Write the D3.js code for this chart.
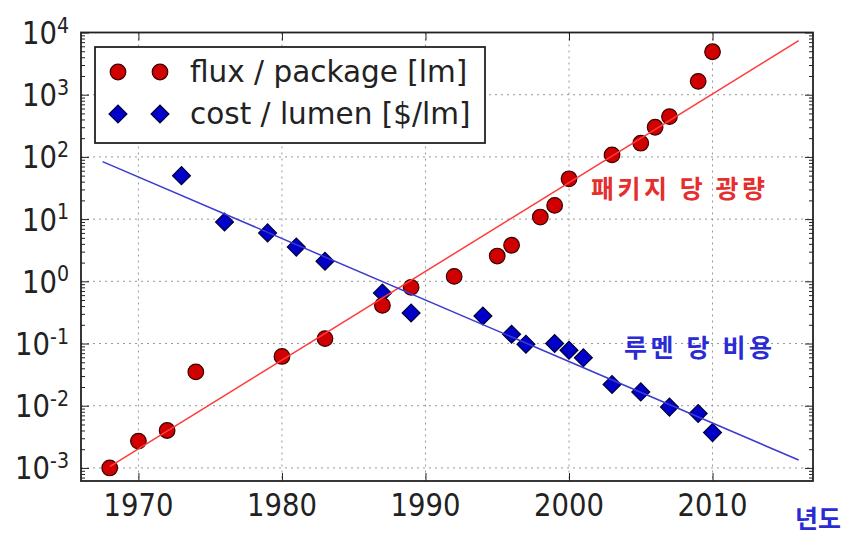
<!DOCTYPE html>
<html>
<head>
<meta charset="utf-8">
<script src="https://cdn.jsdelivr.net/npm/d3@7"></script>
<style>
  html, body { margin: 0; padding: 0; background: #fff; }
  svg { display: block; }
  .tick-label { font-family: "DejaVu Sans", sans-serif; fill: #222; }
  .ko { font-family: "Noto Sans CJK KR", sans-serif; font-weight: 700; }
</style>
</head>
<body>
<svg id="chart" width="846" height="535"></svg>
<script>
// ---------------- data ----------------
const fluxYears  = [1968, 1970, 1972, 1974, 1980, 1983, 1987, 1989, 1992, 1995, 1996, 1998, 1999, 2000, 2003, 2005, 2006, 2007, 2009, 2010];
const fluxValues = [0.001, 0.0027, 0.004, 0.035, 0.062, 0.12, 0.41, 0.8, 1.2, 2.55, 3.8, 10.8, 16.6, 44.5, 108, 166, 300, 445, 1640, 4900];

const costYears  = [1973, 1976, 1979, 1981, 1983, 1987, 1989, 1994, 1996, 1997, 1999, 2000, 2001, 2003, 2005, 2007, 2009, 2010];
const costValues = [50, 9.0, 6.0, 3.55, 2.1, 0.65, 0.31, 0.277, 0.141, 0.0975, 0.1, 0.078, 0.059, 0.022, 0.0167, 0.0095, 0.0075, 0.0037];

const fluxFitYears  = [1968, 2016];
const fluxFitValues = [0.00105, 7400];
const costFitYears  = [1967.5, 2016];
const costFitValues = [84, 0.00134];

const xTickValues = [1970, 1980, 1990, 2000, 2010];
const yTickExponents = [-3, -2, -1, 0, 1, 2, 3, 4];

const legendLabels = ["flux / package [lm]", "cost / lumen [$/lm]"];
const fluxLabel = "패키지 당 광량";
const costLabel = "루멘 당 비용";
const xAxisLabel = "년도";

// ---------------- layout ----------------
const svg = d3.select("#chart");
const plot = { left: 81, right: 813, top: 32.5, bottom: 481 };

const x = d3.scaleLinear().domain([1966, 2017]).range([plot.left, plot.right]);
const y = d3.scaleLog().domain([Math.pow(10, -3.21), 1e4]).range([plot.bottom, plot.top]);

const redFill = "#d00000", redEdge = "#3a0000", redLine = "#ff3b3b";
const blueFill = "#0000c8", blueEdge = "#00003a", blueLine = "#3a3ad0";

// grid
const grid = svg.append("g");
xTickValues.forEach(v => {
  grid.append("line").attr("x1", x(v)).attr("x2", x(v)).attr("y1", plot.top).attr("y2", plot.bottom)
    .attr("stroke", "#999").attr("stroke-width", 1).attr("stroke-dasharray", "2,4");
});
yTickExponents.filter(e => e < 4).forEach(e => {
  grid.append("line").attr("x1", plot.left).attr("x2", plot.right).attr("y1", y(Math.pow(10, e))).attr("y2", y(Math.pow(10, e)))
    .attr("stroke", "#999").attr("stroke-width", 1).attr("stroke-dasharray", "2,4");
});

// ticks (inside) via d3 axes
const majorLen = 8, minorLen = 4;
const minorVals = [];
for (let e = -4; e < 4; e++) for (let m = 2; m <= 9; m++) {
  const v = m * Math.pow(10, e);
  if (v >= y.domain()[0] && v <= y.domain()[1]) minorVals.push(v);
}
const majorVals = yTickExponents.map(e => Math.pow(10, e));

function styleAxis(g) {
  g.select(".domain").remove();
  g.selectAll("text").remove();
  g.selectAll("line").attr("stroke", "#222").attr("stroke-width", 1);
}
svg.append("g").attr("transform", `translate(${plot.left},0)`)
  .call(d3.axisRight(y).tickValues(majorVals).tickSize(majorLen)).call(styleAxis);
svg.append("g").attr("transform", `translate(${plot.left},0)`)
  .call(d3.axisRight(y).tickValues(minorVals).tickSize(minorLen)).call(styleAxis);
svg.append("g").attr("transform", `translate(${plot.right},0)`)
  .call(d3.axisLeft(y).tickValues(majorVals).tickSize(majorLen)).call(styleAxis);
svg.append("g").attr("transform", `translate(${plot.right},0)`)
  .call(d3.axisLeft(y).tickValues(minorVals).tickSize(minorLen)).call(styleAxis);
svg.append("g").attr("transform", `translate(0,${plot.bottom})`)
  .call(d3.axisTop(x).tickValues(xTickValues).tickSize(majorLen)).call(styleAxis);
svg.append("g").attr("transform", `translate(0,${plot.top})`)
  .call(d3.axisBottom(x).tickValues(xTickValues).tickSize(majorLen)).call(styleAxis);

// markers
const diamond = d3.symbol().type(d3.symbolSquare).size(160);
svg.append("g").selectAll("path").data(costYears.map((yr, i) => [yr, costValues[i]])).join("path")
  .attr("d", diamond)
  .attr("transform", d => `translate(${x(d[0])},${y(d[1])}) rotate(45)`)
  .attr("fill", blueFill).attr("stroke", blueEdge).attr("stroke-width", 1.2);

svg.append("g").selectAll("circle").data(fluxYears.map((yr, i) => [yr, fluxValues[i]])).join("circle")
  .attr("cx", d => x(d[0])).attr("cy", d => y(d[1])).attr("r", 7.8)
  .attr("fill", redFill).attr("stroke", redEdge).attr("stroke-width", 1.2);

// fit lines
const line = d3.line().x(d => x(d[0])).y(d => y(d[1]));
svg.append("path").datum(fluxFitYears.map((yr, i) => [yr, fluxFitValues[i]]))
  .attr("d", line).attr("fill", "none").attr("stroke", redLine).attr("stroke-width", 1.5);
svg.append("path").datum(costFitYears.map((yr, i) => [yr, costFitValues[i]]))
  .attr("d", line).attr("fill", "none").attr("stroke", blueLine).attr("stroke-width", 1.5);

// frame
svg.append("rect").attr("x", plot.left).attr("y", plot.top)
  .attr("width", plot.right - plot.left).attr("height", plot.bottom - plot.top)
  .attr("fill", "none").attr("stroke", "#222").attr("stroke-width", 1.8);

// tick labels
const xFont = 27.5;
xTickValues.forEach(v => {
  svg.append("text").attr("class", "tick-label")
    .attr("transform", `translate(${x(v)},504) scale(1,1.15)`)
    .attr("y", 0.729 * xFont / 2)
    .attr("text-anchor", "middle").attr("font-size", xFont).text(v);
});
const yFont = 27.5;
yTickExponents.forEach(e => {
  const t = svg.append("text").attr("class", "tick-label")
    .attr("transform", `translate(69,${y(Math.pow(10, e))}) scale(1,1.15)`)
    .attr("y", 0.729 * yFont / 2)
    .attr("text-anchor", "end").attr("font-size", yFont);
  t.append("tspan").text("10");
  t.append("tspan").attr("font-size", 19).attr("dy", -10).text(e < 0 ? "-" + (-e) : String(e));
});

// legend
const lg = svg.append("g");
lg.append("rect").attr("x", 95).attr("y", 47).attr("width", 390).attr("height", 96)
  .attr("fill", "#fff").attr("stroke", "#222").attr("stroke-width", 1.8);
[118, 160].forEach(mx => {
  lg.append("circle").attr("cx", mx).attr("cy", 72).attr("r", 7.8)
    .attr("fill", redFill).attr("stroke", redEdge).attr("stroke-width", 1.2);
  lg.append("path").attr("d", diamond).attr("transform", `translate(${mx},114) rotate(45)`)
    .attr("fill", blueFill).attr("stroke", blueEdge).attr("stroke-width", 1.2);
});
legendLabels.forEach((lab, i) => {
  lg.append("text").attr("class", "tick-label")
    .attr("x", 190).attr("y", [72, 114][i] + 10)
    .attr("font-size", 29.5).text(lab);
});

// annotations
svg.append("text").attr("class", "ko").attr("x", 591).attr("y", 198)
  .attr("font-size", 25).attr("fill", "#e62e2e")
  .attr("textLength", 174).attr("lengthAdjust", "spacing").text(fluxLabel);
svg.append("text").attr("class", "ko").attr("x", 624).attr("y", 357)
  .attr("font-size", 25).attr("fill", "#2b2bd6")
  .attr("textLength", 148).attr("lengthAdjust", "spacing").text(costLabel);
svg.append("text").attr("class", "ko").attr("x", 795).attr("y", 528)
  .attr("font-size", 25).attr("fill", "#2b2bd6").text(xAxisLabel);
</script>
</body>
</html>
